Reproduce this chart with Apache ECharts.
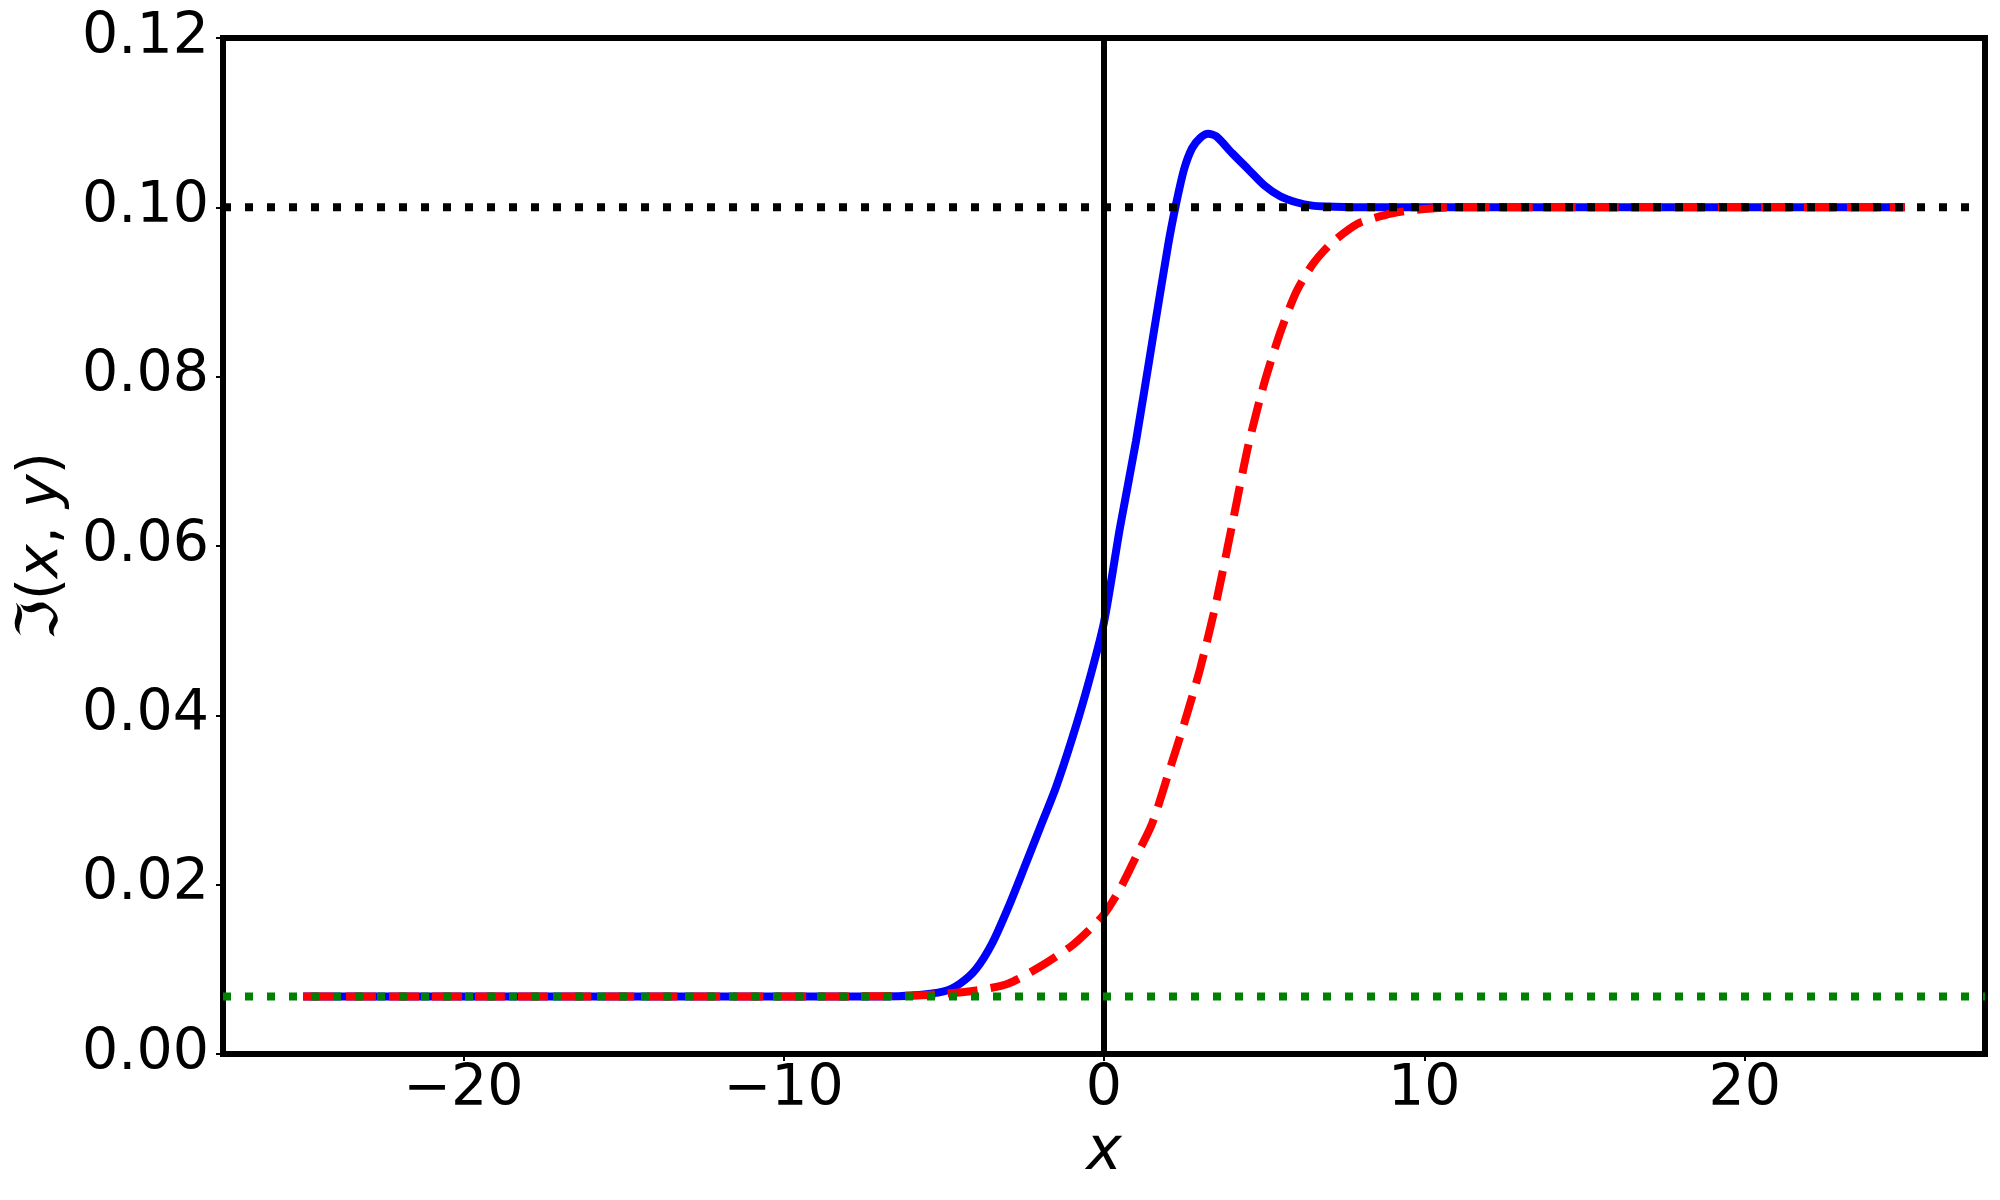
<!DOCTYPE html>
<html>
<head>
<meta charset="utf-8">
<script src="https://cdn.jsdelivr.net/npm/echarts@6/dist/echarts.min.js"></script>
<style>
  html, body { margin: 0; padding: 0; background: #fff; }
  #chart { width: 2000px; height: 1200px; }
</style>
</head>
<body>
<div id="chart"></div>
<script>
// values
const blueX = [-25, -7, -6, -5, -4.5, -4, -3.5, -3, -2.5, -2, -1.5, -1, -0.5, 0, 0.5, 1, 1.5, 2, 2.25, 2.5, 2.75, 3, 3.25, 3.5, 4, 4.5, 5, 5.5, 6, 6.5, 7, 8, 25]
const blueY = [0.0068, 0.0068, 0.0069, 0.0074, 0.0083, 0.0100, 0.0130, 0.0172, 0.0219, 0.0267, 0.0315, 0.0372, 0.0436, 0.0510, 0.0622, 0.0724, 0.0840, 0.0955, 0.1004, 0.1045, 0.1070, 0.1082, 0.1087, 0.1084, 0.1064, 0.1045, 0.1026, 0.1013, 0.1006, 0.1002, 0.1001, 0.1000, 0.1000]
const redX = [-25, -8, -6, -5, -4, -3, -2, -1, -0.5, 0, 0.5, 1, 1.5, 2, 2.5, 3, 3.5, 4, 4.5, 5, 5.5, 6, 6.5, 7, 7.5, 8, 9, 10, 11, 25]
const redY = [0.0068, 0.0068, 0.0069, 0.0071, 0.0075, 0.0083, 0.0103, 0.0128, 0.0145, 0.0165, 0.0195, 0.0233, 0.0272, 0.0330, 0.0390, 0.0455, 0.0533, 0.0625, 0.0718, 0.0792, 0.0852, 0.0900, 0.0932, 0.0954, 0.0970, 0.0982, 0.0993, 0.0998, 0.1000, 0.1000]
const upperLevel = 0.1
const lowerLevel = 0.0068
const xRange = [-27.5, 27.5]
const yRange = [0, 0.12]
const xTicks = [-20, -10, 0, 10, 20]

const zip = (xs, ys) => xs.map((x, i) => [x, ys[i]])
const font = 'DejaVu Sans'

const chart = echarts.init(document.getElementById('chart'))
chart.setOption({
    animation: false,
    backgroundColor: '#fff',
    grid: {
        left: 223,
        right: 15,
        top: 38,
        bottom: 146,
        show: true,
        borderColor: '#000',
        borderWidth: 6
    },
    xAxis: {
        type: 'value',
        min: xRange[0],
        max: xRange[1],
        name: 'x',
        nameLocation: 'middle',
        nameGap: 62,
        nameTextStyle: { fontFamily: font, fontSize: 60, fontStyle: 'italic', color: '#000' },
        axisLine: { show: false, onZero: false },
        splitLine: { show: false },
        axisTick: { show: true, length: 7, lineStyle: { color: '#000', width: 2 }, customValues: xTicks },
        axisLabel: {
            customValues: xTicks,
            margin: 8,
            fontFamily: font,
            fontSize: 57,
            color: '#000',
            formatter: v => v < 0 ? '\u2212' + Math.abs(v) : String(v)
        }
    },
    yAxis: {
        type: 'value',
        min: yRange[0],
        max: yRange[1],
        interval: 0.02,
        name: 'ℑ({i|x}, {i|y})',
        nameLocation: 'middle',
        nameGap: 150,
        nameRotate: 90,
        nameTextStyle: {
            fontFamily: font,
            fontSize: 57,
            color: '#000',
            rich: {
                i: { fontFamily: font, fontSize: 57, fontStyle: 'italic', color: '#000' }
            }
        },
        axisLine: { show: false, onZero: false },
        splitLine: { show: false },
        axisTick: { show: true, length: 7, lineStyle: { color: '#000', width: 2 } },
        axisLabel: {
            margin: 14,
            fontFamily: font,
            fontSize: 57,
            color: '#000',
            formatter: v => v.toFixed(2)
        }
    },
    series: [
        {
            type: 'line',
            data: zip(blueX, blueY),
            showSymbol: false,
            smooth: 0.25,
            lineStyle: { color: '#0000ff', width: 8 },
            z: 2
        },
        {
            type: 'line',
            data: zip(redX, redY),
            showSymbol: false,
            smooth: 0.25,
            lineStyle: { color: '#ff0000', width: 8, type: [30, 13], cap: 'butt' },
            z: 3
        },
        {
            type: 'line',
            data: zip([0, 0], yRange),
            showSymbol: false,
            lineStyle: { color: '#000', width: 6 },
            z: 4
        },
        {
            type: 'line',
            data: zip(xRange, [upperLevel, upperLevel]),
            showSymbol: false,
            lineStyle: { color: '#000', width: 8, type: [8, 14], cap: 'butt' },
            z: 5
        },
        {
            type: 'line',
            data: zip(xRange, [lowerLevel, lowerLevel]),
            showSymbol: false,
            lineStyle: { color: '#008000', width: 8, type: [8, 14], cap: 'butt' },
            z: 6
        }
    ]
})
</script>
</body>
</html>
